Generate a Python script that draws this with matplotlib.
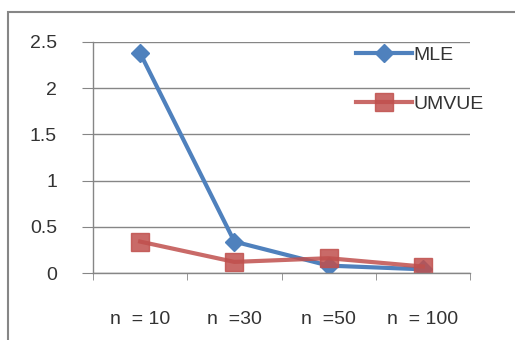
import matplotlib.pyplot as plt
from matplotlib.patches import Rectangle

sizes = ['n  = 10', 'n  =30', 'n  =50', 'n  = 100']
mle = [2.38, 0.34, 0.08, 0.04]
umvue = [0.34, 0.12, 0.16, 0.07]
yticks = [0, 0.5, 1, 1.5, 2, 2.5]
ylabels = ['0', '0.5', '1', '1.5', '2', '2.5']

plt.rcParams['font.family'] = ['Liberation Sans', 'DejaVu Sans']

fig = plt.figure(figsize=(5.15, 3.4), dpi=100)
# chart frame, right and bottom edges run off the canvas
fig.patches.append(Rectangle((8/515, -0.1), 1.2, (328/340) + 0.1, transform=fig.transFigure,
                             fill=False, edgecolor='#868686', linewidth=1.5))

ax = fig.add_axes([93/515, 67/340, 377/515, 231/340])
x = range(len(sizes))
ax.plot(x, mle, color='#4F81BD', linewidth=3, marker='D', markersize=9, label='MLE')
ax.plot(x, umvue, color='#C0504D', linewidth=3, marker='s', markersize=13,
        markerfacecolor='#C0504D', markeredgecolor='#C0504D', alpha=0.85, label='UMVUE')

ax.set_xlim(-0.5, len(sizes) - 0.5)
ax.set_ylim(0, 2.5)
ax.set_yticks(yticks)
ax.set_yticklabels(ylabels)
ax.yaxis.grid(True, color='#868686', linewidth=1)
ax.set_axisbelow(True)

ax.set_xticks(list(x))
ax.set_xticklabels(sizes)
ax.set_xticks([i - 0.5 for i in range(len(sizes) + 1)], minor=True)
ax.tick_params(axis='x', which='major', length=0, pad=27.5, labelsize=14, labelcolor='#333333')
ax.tick_params(axis='x', which='minor', length=5, color='#868686', direction='out')
ax.tick_params(axis='y', length=8, color='#868686', pad=18, labelsize=14, labelcolor='#333333')

for s in ['top', 'right']:
    ax.spines[s].set_visible(False)
for s in ['left', 'bottom']:
    ax.spines[s].set_color('#868686')
    ax.spines[s].set_linewidth(1)

leg = ax.legend(loc='upper left', bbox_to_anchor=(338/515, 1 - 29/340), bbox_transform=fig.transFigure,
                frameon=False, fontsize=14, handlelength=2.9, handletextpad=0.1, labelspacing=1.6)
for t in leg.get_texts():
    t.set_color('#333333')

fig.savefig('out.png', dpi=100)
